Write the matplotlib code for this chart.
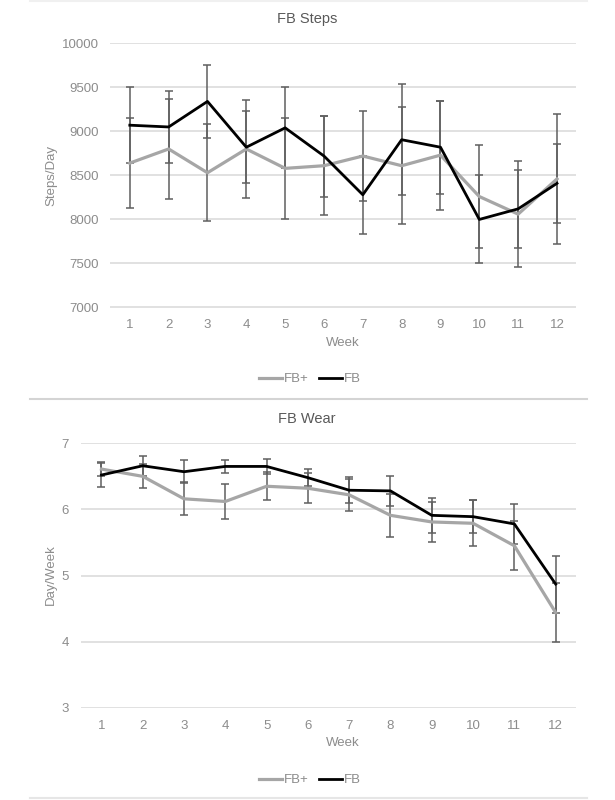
import numpy as np
import matplotlib
matplotlib.use("Agg")
import matplotlib.pyplot as plt
from matplotlib.lines import Line2D

plt.rcParams['font.family'] = ['Liberation Sans', 'DejaVu Sans']

weeks = np.arange(1, 13)

# FB Steps (steps/day), mean and error
steps_fbplus = [8640, 8800, 8530, 8800, 8580, 8610, 8720, 8610, 8730, 8260, 8060, 8460]
steps_fbplus_err = [510, 570, 550, 560, 570, 560, 510, 665, 620, 590, 600, 740]
steps_fb = [9070, 9050, 9340, 8820, 9040, 8720, 8280, 8905, 8820, 8000, 8120, 8410]
steps_fb_err = [430, 410, 410, 410, 460, 460, 440, 630, 530, 500, 440, 450]

# FB Wear (days/week)
wear_fbplus = [6.61, 6.50, 6.16, 6.12, 6.35, 6.32, 6.22, 5.91, 5.81, 5.79, 5.45, 4.44]
wear_fbplus_err = [0.11, 0.18, 0.25, 0.26, 0.21, 0.23, 0.24, 0.32, 0.30, 0.35, 0.37, 0.44]
wear_fb = [6.52, 6.66, 6.57, 6.65, 6.65, 6.48, 6.29, 6.28, 5.91, 5.89, 5.78, 4.87]
wear_fb_err = [0.18, 0.15, 0.17, 0.10, 0.11, 0.13, 0.20, 0.23, 0.27, 0.25, 0.30, 0.43]

steps_ticks = [7000, 7500, 8000, 8500, 9000, 9500, 10000]
wear_ticks = [3, 4, 5, 6, 7]

GRAY = '#a6a6a6'
BLACK = '#000000'
ERR = '#5f5f5f'
GRID = '#d9d9d9'
TICK = '#8c8c8c'
TITLE = '#595959'

W, H = 615, 800
fig = plt.figure(figsize=(W / 100, H / 100), dpi=100)


def panel(rect, plus, plus_err, fb, fb_err, ticks, title, ylabel, title_y, xlabel_y, ylabel_y, legend_y):
    ax = fig.add_axes(rect)
    for y, e in [(plus, plus_err), (fb, fb_err)]:
        ax.errorbar(weeks, y, yerr=e, fmt='none', ecolor=ERR, elinewidth=1.1,
                    capsize=3, capthick=1.1, zorder=3)
    l1, = ax.plot(weeks, plus, color=GRAY, lw=2.3, zorder=4, label='FB+')
    l2, = ax.plot(weeks, fb, color=BLACK, lw=2.0, zorder=5, label='FB')
    ax.set_xlim(0.5, 12.5)
    ax.set_ylim(ticks[0], ticks[-1])
    ax.set_yticks(ticks)
    ax.set_xticks(weeks)
    ax.grid(axis='y', color=GRID, lw=1.1)
    ax.set_axisbelow(True)
    for s in ax.spines.values():
        s.set_visible(False)
    ax.tick_params(length=0, pad=8.5, labelsize=9.5, labelcolor=TICK)
    fig.text(307 / W, 1 - title_y / H, title, ha='center', va='center',
             fontsize=10.5, color=TITLE)
    fig.text(343 / W, 1 - xlabel_y / H, 'Week', ha='center', va='center',
             fontsize=9.5, color=TICK)
    fig.text(51 / W, 1 - ylabel_y / H, ylabel, ha='center', va='center',
             rotation=90, fontsize=9.5, color=TICK)
    fig.legend(handles=[l1, l2], loc='center', ncol=2,
               bbox_to_anchor=(310 / W, 1 - legend_y / H), frameon=False,
               fontsize=9.5, labelcolor=TICK, handlelength=1.7,
               handletextpad=0.15, columnspacing=0.8)
    return ax


panel([110.4 / W, 1 - 307.5 / H, 466 / W, 264.2 / H],
      steps_fbplus, steps_fbplus_err, steps_fb, steps_fb_err, steps_ticks,
      'FB Steps', 'Steps/Day', 19, 343, 175, 379)

panel([80.8 / W, 1 - 707.7 / H, 495.5 / W, 264.4 / H],
      wear_fbplus, wear_fbplus_err, wear_fb, wear_fb_err, wear_ticks,
      'FB Wear', 'Day/Week', 419, 743, 575, 780)

# chart frame separators
for yy, c in [(1, '#f0f0f0'), (399, '#d4d4d4'), (798, '#e6e6e6')]:
    fig.add_artist(Line2D([29.6 / W, 587 / W], [1 - yy / H, 1 - yy / H],
                          color=c, lw=1.5, transform=fig.transFigure))

fig.savefig('out.png', dpi=100)
